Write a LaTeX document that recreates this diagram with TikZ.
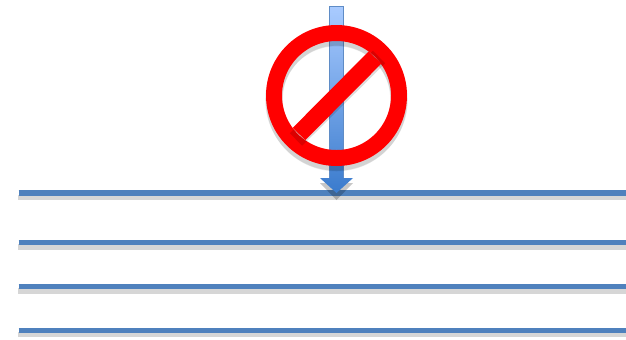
\documentclass[tikz,border=0pt]{standalone}
\definecolor{linecol}{HTML}{4F81BD}
\definecolor{shaftedge}{HTML}{5F8CC6}
\definecolor{shafttop}{HTML}{A9CBFF}
\definecolor{shaftbot}{HTML}{3A7BCD}
\definecolor{shadowcol}{HTML}{D6D6D6}
\tikzset{
    ruleline/.style={linecol, line width=3.1pt},
    ruleshadow/.style={shadowcol, line width=3.1pt},
    softshadow/.style={black, opacity=0.09},
    ringline/.style={red, line width=9.1pt},
    slashline/.style={red, line width=10pt}
}
\begin{document}
\begin{tikzpicture}[x=0.02cm, y=-0.02cm]
    \useasboundingbox (0,0) rectangle (626,339);

    % ruled lines
    \foreach \ypos in {193,242.5,286.7,330.3} {
        \draw[ruleshadow] (18,\ypos+4.4) -- (626,\ypos+4.4);
        \draw[ruleline] (18.5,\ypos) -- (626,\ypos);
    }

    % arrow
    \coordinate (tip) at (336.5,193);
    \fill[black, opacity=0.22] (320,183) -- (336.5,200) -- (353,183) -- cycle;
    \path[top color=shafttop, bottom color=shaftbot]
        (329.5,6.5) -- (343.5,6.5) -- (343.5,178) -- (353,178) -- (tip) -- (320,178) -- (329.5,178) -- cycle;
    \draw[shaftedge, line width=0.9pt] (329.5,178) -- (329.5,6.5) -- (343.5,6.5) -- (343.5,178);

    % forbidden sign
    \coordinate (signc) at (336.5,95.5);
    \coordinate (slasha) at (299,134);
    \coordinate (slashb) at (375,57.5);
    \draw[softshadow, line width=10pt] ([yshift=-2.2pt]signc) circle (62.5);
    \draw[softshadow, line width=9.1pt] ([yshift=-3pt]signc) circle (62.5);
    \draw[ringline] (signc) circle (62.5);
    \draw[black, opacity=0.14, line width=10pt] (296,139.5) -- (379,57);
    \draw[slashline] (slasha) -- (slashb);
\end{tikzpicture}
\end{document}
